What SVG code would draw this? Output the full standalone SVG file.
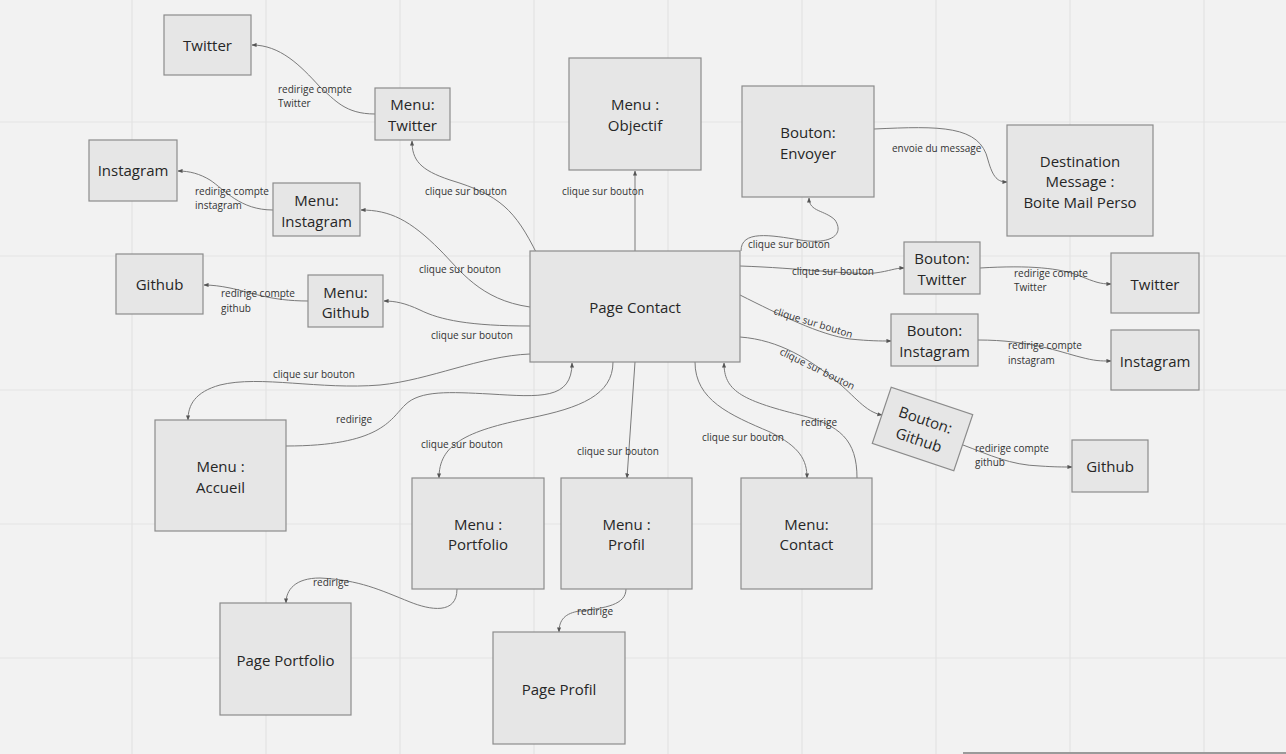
<svg xmlns="http://www.w3.org/2000/svg" width="1286" height="754" viewBox="0 0 1286 754">
<defs>
<style>
.node rect{fill:#e6e6e6;stroke:#8c8c8c;stroke-width:1.2}
.nt{font-family:"Open Sans","Liberation Sans",sans-serif;font-size:15px;fill:#262626;text-anchor:middle}
.lb{font-family:"Open Sans","Liberation Sans",sans-serif;font-size:10px;fill:#333}
.grid line{stroke:#e3e3e3;stroke-width:1.2}
#connectors path{fill:none;stroke:#7a7a7a;stroke-width:1}
#connectors path.a{marker-end:url(#arr)}
</style>
<marker id="arr" viewBox="0 0 6 6" refX="5.5" refY="3" markerWidth="5" markerHeight="5" markerUnits="userSpaceOnUse" orient="auto">
<path d="M0,0.5 L6,3 L0,5.5 z" fill="#555"/>
</marker>
</defs>
<rect width="1286" height="754" fill="#f2f2f2"/>
<g class="grid">
<line x1="132" y1="0" x2="132" y2="754"/><line x1="266" y1="0" x2="266" y2="754"/><line x1="400" y1="0" x2="400" y2="754"/><line x1="534" y1="0" x2="534" y2="754"/><line x1="668" y1="0" x2="668" y2="754"/><line x1="802" y1="0" x2="802" y2="754"/><line x1="936" y1="0" x2="936" y2="754"/><line x1="1070" y1="0" x2="1070" y2="754"/><line x1="1204" y1="0" x2="1204" y2="754"/>
<line x1="0" y1="122" x2="1286" y2="122"/><line x1="0" y1="256" x2="1286" y2="256"/><line x1="0" y1="390" x2="1286" y2="390"/><line x1="0" y1="524" x2="1286" y2="524"/><line x1="0" y1="658" x2="1286" y2="658"/>
</g>
<rect x="963" y="752" width="323" height="2" fill="#9a9a9a"/>

<g id="connectors">
<path class="a" d="M375,114 C345,114 335,100 320,87 C300,65 280,45 252,45"/>
<path class="a" d="M273,210 C240,210 225,190 210,180 C200,174 190,171 178,171"/>
<path class="a" d="M308,301 C270,301 250,292 230,288 C220,286 212,285 204,285"/>
<path class="a" d="M537,254 C515,210 500,195 450,180 C420,170 412,160 412,141"/>
<path class="a" d="M530,307 C480,300 460,270 440,250 C410,220 390,210 361,210"/>
<path class="a" d="M530,326 C470,326 440,320 420,310 C405,303 395,301 384,301"/>
<path class="a" d="M635,251 L635,171"/>
<path class="a" d="M741,251 C741,230 770,235 800,240 C830,245 845,235 835,220 C825,210 809,212 809,198"/>
<path class="a" d="M874,129 C940,126 980,125 988,160 C993,178 998,182 1007,182"/>
<path class="a" d="M740,266 C800,268 850,275 875,273 C890,271 895,268 904,268"/>
<path class="a" d="M980,268 C1030,265 1060,268 1080,276 C1095,282 1100,284 1111,284"/>
<path class="a" d="M740,295 C780,315 820,335 850,339 C870,341 880,341 891,341"/>
<path class="a" d="M978,340 C1030,340 1060,352 1080,357 C1095,361 1100,361 1111,361"/>
<path class="a" d="M740,337 C780,340 810,360 835,380 C855,396 865,412 882,415"/>
<path class="a" d="M963,445 C990,455 1010,465 1040,466 C1055,467 1062,467 1072,467"/>
<path class="a" d="M695,362 C695,400 730,415 770,432 C800,447 807,460 807,478"/>
<path class="a" d="M857,478 C857,440 840,425 800,415 C740,400 724,390 724,363"/>
<path class="a" d="M635,362 L627,478"/>
<path class="a" d="M613,362 C613,395 580,408 530,418 C465,431 439,445 439,478"/>
<path class="a" d="M286,446 C380,446 390,420 405,405 C420,390 450,392 490,394 C540,397 572,400 572,363"/>
<path class="a" d="M530,354 C480,356 430,380 380,385 C320,390 260,375 220,385 C195,392 188,405 188,420"/>
<path class="a" d="M457,589 C457,615 430,610 410,602 C380,590 360,580 320,578 C295,578 286,590 286,603"/>
<path class="a" d="M626,589 C626,605 605,608 580,611 C565,613 559,620 559,632"/>
</g>

<g id="labels">
<text class="lb" x="278" y="93">redirige compte</text><text class="lb" x="278" y="107">Twitter</text>
<text class="lb" x="195" y="195">redirige compte</text><text class="lb" x="195" y="209">instagram</text>
<text class="lb" x="221" y="297">redirige compte</text><text class="lb" x="221" y="312">github</text>
<text class="lb" x="425" y="195">clique sur bouton</text>
<text class="lb" x="419" y="273">clique sur bouton</text>
<text class="lb" x="431" y="339">clique sur bouton</text>
<text class="lb" x="562" y="195">clique sur bouton</text>
<text class="lb" x="748" y="248">clique sur bouton</text>
<text class="lb" x="892" y="152">envoie du message</text>
<text class="lb" x="792" y="275">clique sur bouton</text>
<text class="lb" x="1014" y="277">redirige compte</text><text class="lb" x="1014" y="291">Twitter</text>
<text class="lb" transform="translate(773,314) rotate(17)">clique sur bouton</text>
<text class="lb" x="1008" y="349">redirige compte</text><text class="lb" x="1008" y="364">instagram</text>
<text class="lb" transform="translate(779,354) rotate(26)">clique sur bouton</text>
<text class="lb" x="975" y="452">redirige compte</text><text class="lb" x="975" y="466">github</text>
<text class="lb" x="702" y="441">clique sur bouton</text>
<text class="lb" x="801" y="426">redirige</text>
<text class="lb" x="577" y="455">clique sur bouton</text>
<text class="lb" x="421" y="448">clique sur bouton</text>
<text class="lb" x="336" y="423">redirige</text>
<text class="lb" x="273" y="378">clique sur bouton</text>
<text class="lb" x="313" y="586">redirige</text>
<text class="lb" x="577" y="615">redirige</text>
</g>

<g id="n-twitter-l" class="node"><rect x="164" y="15" width="87" height="60"/><text class="nt" x="207.5" y="51">Twitter</text></g>
<g id="n-menu-twitter" class="node"><rect x="375" y="88" width="75" height="52"/><text class="nt" x="412.5" y="110">Menu:</text><text class="nt" x="412.5" y="131">Twitter</text></g>
<g id="n-instagram-l" class="node"><rect x="89" y="140" width="88" height="61"/><text class="nt" x="133" y="176">Instagram</text></g>
<g id="n-menu-instagram" class="node"><rect x="273" y="183" width="87" height="53"/><text class="nt" x="316.5" y="206">Menu:</text><text class="nt" x="316.5" y="227">Instagram</text></g>
<g id="n-github-l" class="node"><rect x="116" y="254" width="87" height="60"/><text class="nt" x="159.5" y="290">Github</text></g>
<g id="n-menu-github" class="node"><rect x="308" y="275" width="75" height="52"/><text class="nt" x="345.5" y="298">Menu:</text><text class="nt" x="345.5" y="318">Github</text></g>
<g id="n-menu-objectif" class="node"><rect x="569" y="58" width="132" height="112"/><text class="nt" x="635" y="110">Menu :</text><text class="nt" x="635" y="131">Objectif</text></g>
<g id="n-bouton-envoyer" class="node"><rect x="742" y="86" width="132" height="111"/><text class="nt" x="808" y="138">Bouton:</text><text class="nt" x="808" y="159">Envoyer</text></g>
<g id="n-destination" class="node"><rect x="1007" y="125" width="146" height="111"/><text class="nt" x="1080" y="167">Destination</text><text class="nt" x="1080" y="187">Message :</text><text class="nt" x="1080" y="208">Boite Mail Perso</text></g>
<g id="n-page-contact" class="node"><rect x="530" y="251" width="210" height="111"/><text class="nt" x="635" y="313">Page Contact</text></g>
<g id="n-bouton-twitter" class="node"><rect x="904" y="242" width="76" height="52"/><text class="nt" x="942" y="264">Bouton:</text><text class="nt" x="942" y="285">Twitter</text></g>
<g id="n-twitter-r" class="node"><rect x="1111" y="253" width="88" height="60"/><text class="nt" x="1155" y="290">Twitter</text></g>
<g id="n-bouton-instagram" class="node"><rect x="891" y="314" width="87" height="52"/><text class="nt" x="934.5" y="336">Bouton:</text><text class="nt" x="934.5" y="357">Instagram</text></g>
<g id="n-instagram-r" class="node"><rect x="1111" y="330" width="88" height="60"/><text class="nt" x="1155" y="367">Instagram</text></g>
<g id="n-bouton-github" class="node" transform="translate(922.5,429) rotate(18.6)"><rect x="-43" y="-29.7" width="86" height="59.4"/><text class="nt" x="0" y="-4">Bouton:</text><text class="nt" x="0" y="17">Github</text></g>
<g id="n-github-r" class="node"><rect x="1072" y="440" width="76" height="52"/><text class="nt" x="1110" y="472">Github</text></g>
<g id="n-menu-accueil" class="node"><rect x="155" y="420" width="131" height="111"/><text class="nt" x="220.5" y="472">Menu :</text><text class="nt" x="220.5" y="493">Accueil</text></g>
<g id="n-menu-portfolio" class="node"><rect x="412" y="478" width="132" height="111"/><text class="nt" x="478" y="530">Menu :</text><text class="nt" x="478" y="550">Portfolio</text></g>
<g id="n-menu-profil" class="node"><rect x="561" y="478" width="131" height="111"/><text class="nt" x="626.5" y="530">Menu :</text><text class="nt" x="626.5" y="550">Profil</text></g>
<g id="n-menu-contact" class="node"><rect x="741" y="478" width="131" height="111"/><text class="nt" x="806.5" y="530">Menu:</text><text class="nt" x="806.5" y="550">Contact</text></g>
<g id="n-page-portfolio" class="node"><rect x="220" y="603" width="131" height="112"/><text class="nt" x="285.5" y="666">Page Portfolio</text></g>
<g id="n-page-profil" class="node"><rect x="493" y="632" width="132" height="112"/><text class="nt" x="559" y="695">Page Profil</text></g>
</svg>
